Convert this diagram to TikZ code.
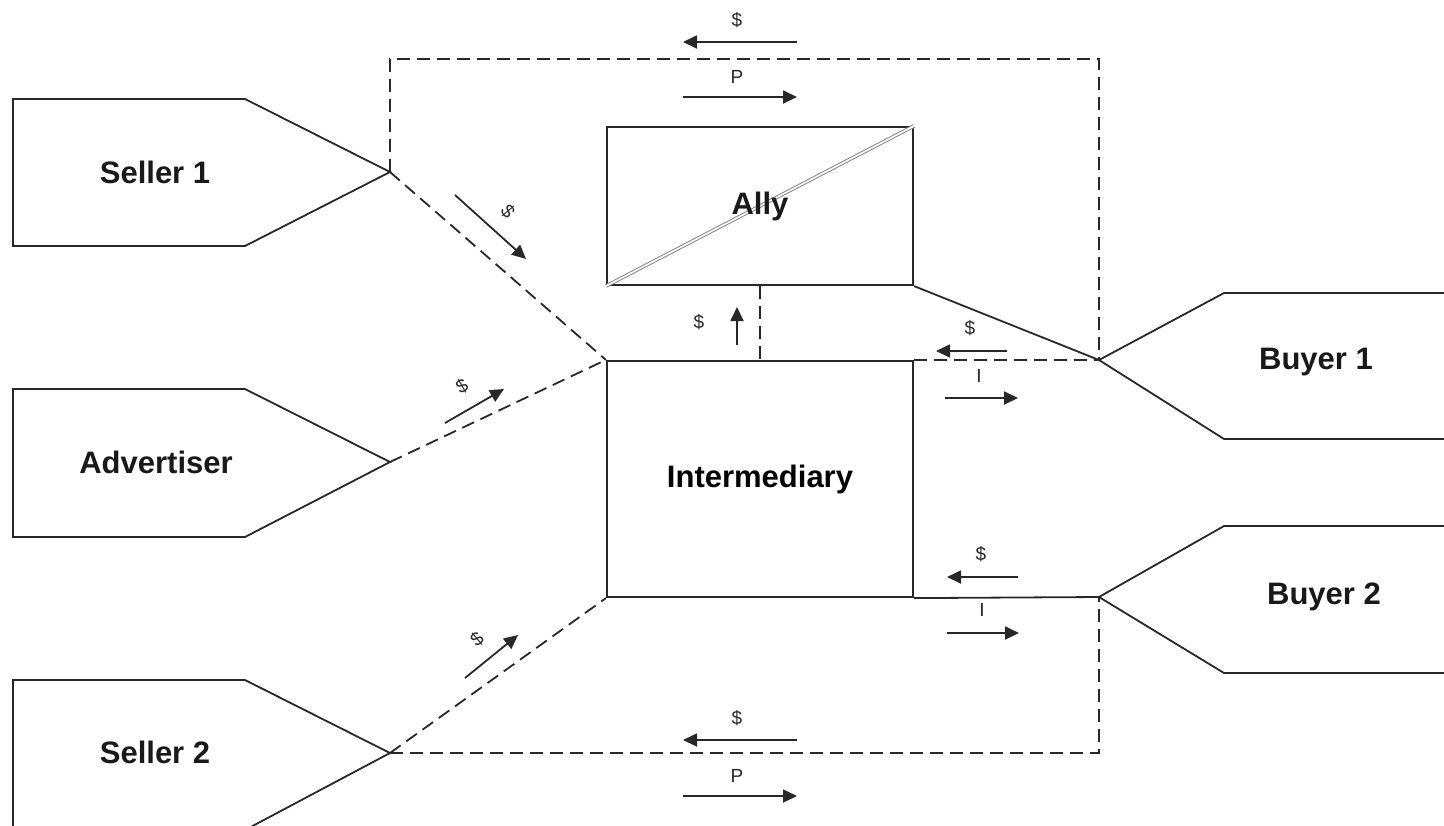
\documentclass[tikz,border=0pt]{standalone}
\usepackage{fontspec}
\setmainfont{Liberation Sans}
\usepackage{tikz}
\usetikzlibrary{arrows.meta,positioning,calc}
\definecolor{ink}{RGB}{40,40,40}
\definecolor{diaggrey}{RGB}{135,135,135}
\tikzset{
  shp/.style={draw=ink,line width=0.9pt,line join=miter},
  boxn/.style={draw=ink,line width=1.1pt,inner sep=0pt,
               font=\fontsize{15.5}{18}\selectfont\bfseries},
  party/.style={font=\fontsize{15.5}{18}\selectfont\bfseries,text=black!90,inner sep=0pt},
  dline/.style={draw=ink,line width=0.9pt,dash pattern=on 6.5pt off 3.5pt},
  sline/.style={draw=ink,line width=0.9pt},
  flow/.style={-{Triangle[length=7pt,width=6.5pt]},draw=ink,fill=ink,line width=0.9pt},
  tag/.style={font=\fontsize{9.5}{10}\selectfont,text=ink,inner sep=0pt},
  diag/.style={draw=diaggrey,double=white,double distance=0.8pt,line width=0.5pt},
}
\begin{document}
\begin{tikzpicture}[x=0.5pt,y=-0.5pt]
  \useasboundingbox (0,0) rectangle (1444,825);

  \draw[shp] (13,99) -- (245,99) -- (390,172) coordinate (s1)
             -- (245,246) -- (13,246) -- cycle;
  \node[party] (seller1) at (155,172) {Seller 1};

  \draw[shp] (13,389) -- (245,389) -- (390,462) coordinate (adv)
             -- (245,537) -- (13,537) -- cycle;
  \node[party] (advert) at (156,462) {Advertiser};

  \draw[shp] (13,680) -- (245,680) -- (390,753) coordinate (s2)
             -- (245,830) -- (13,830) -- cycle;
  \node[party] (seller2) at (155,752) {Seller 2};

  \draw[shp] (1450,293) -- (1224,293) -- (1099,360) coordinate (b1)
             -- (1224,439) -- (1450,439);
  \node[party] (buyer1) at (1316,362) {Buyer 1};

  \draw[shp] (1450,526) -- (1224,526) -- (1099,597) coordinate (b2)
             -- (1224,673) -- (1450,673);
  \node[party] (buyer2) at (1324,597) {Buyer 2};

  \node[boxn,minimum width=153pt,minimum height=79pt] (ally) at (760,206) {};
  \draw[diag] (ally.south west) -- (ally.north east);
  \node[party] (allyt) at (ally.center) {Ally};

  \node[boxn,minimum width=153pt,minimum height=118pt] (inter) at (760,479) {Intermediary};

  \draw[dline] (s1) -- (inter.north west);
  \draw[dline] (adv) -- (inter.north west);
  \draw[dline] (s2) -- (inter.south west);
  \draw[dline] (s1) -- ++(0,-113) -| (b1);
  \draw[dline] (s2) -| (b2);
  \draw[dline] (ally.south) -- (inter.north);
  \draw[dline] (inter.north east) -- (b1);
  \draw[sline] (ally.south east) -- (b1);
  \draw[sline] (inter.south east) -- (b2);

  \draw[flow] (797,42) -- (683,42);
  \node[tag] (ptop) at (737,20) {\$};
  \draw[flow] (683,97) -- (797,97);
  \node[tag] (qtop) at (737,77) {P};

  \draw[flow] (797,740) -- (683,740);
  \node[tag] (pbot) at (737,718) {\$};
  \draw[flow] (683,796) -- (797,796);
  \node[tag] (qbot) at (737,776) {P};

  \draw[flow] (455,195) -- (526,259);
  \node[tag,rotate=-50] (ps1) at (508,211) {\$};
  \draw[flow] (445,423) -- (504,389);
  \node[tag,rotate=30] (padv) at (462,386) {\$};
  \draw[flow] (465,678) -- (518,635);
  \node[tag,rotate=40] (ps2) at (477,639) {\$};

  \draw[flow] (737,345) -- (737,307);
  \node[tag] (pally) at (699,322) {\$};

  \draw[flow] (1007,351) -- (936,351);
  \node[tag] (pb1) at (970,328) {\$};
  \node[tag] (ib1) at (979,376) {I};
  \draw[flow] (945,398) -- (1018,398);

  \draw[flow] (1018,577) -- (947,577);
  \node[tag] (pb2) at (981,554) {\$};
  \node[tag] (ib2) at (982,610) {I};
  \draw[flow] (947,633) -- (1019,633);
\end{tikzpicture}
\end{document}
